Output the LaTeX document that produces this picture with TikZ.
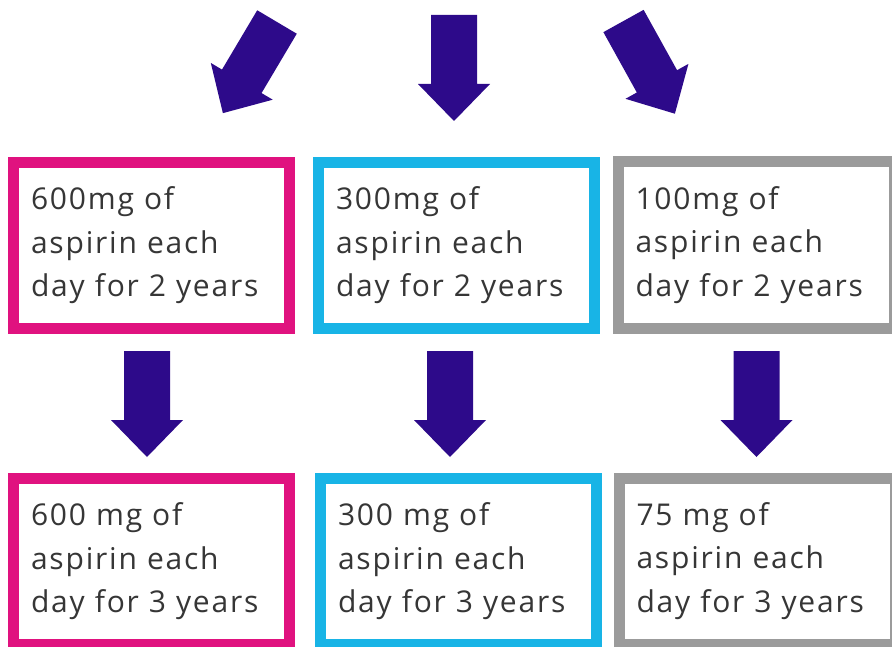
\documentclass[tikz,border=0pt]{standalone}
\usepackage{fontspec}
\setmainfont[LetterSpace=6]{Open Sans}
\definecolor{arrowcol}{HTML}{2D0A8A}
\definecolor{pinkcol}{HTML}{E0127F}
\definecolor{bluecol}{HTML}{18B4E6}
\definecolor{graycol}{HTML}{9B9B9B}
\definecolor{textcol}{HTML}{363636}
\begin{document}
\begin{tikzpicture}[x=1pt,y=-1pt,
  box/.style={draw, line width=11pt, fill=white, minimum width=276pt, minimum height=166pt,
    text width=241pt, inner xsep=17.5pt, inner ysep=0pt, align=left, text=textcol,
    font=\fontsize{30}{43.5}\selectfont},
  blockarrow/.pic={\fill[arrowcol] (-23,0) -- (23,0) -- (23,69) -- (36,69) -- (0,106)
      -- (-36,69) -- (-23,69) -- cycle;}]
\useasboundingbox (0,0) rectangle (892,647);
\clip (0,0) rectangle (892,647);
% top row
\node[box, draw=pinkcol] (p1) at (151.5,245.5) {600mg of\\aspirin each\\day for 2 years};
\node[box, draw=bluecol] (b1) at (456.5,245.5) {300mg of\\aspirin each\\day for 2 years};
\node[box, draw=graycol] (g1) at (756,245) {100mg of\\aspirin each\\day for 2 years};
% bottom row
\node[box, draw=pinkcol] (p2) at (151.5,561.5) {600 mg of\\aspirin each\\day for 3 years};
\node[box, draw=bluecol] (b2) at (458.5,561.5) {300 mg of\\aspirin each\\day for 3 years};
\node[box, draw=graycol] (g2) at (757,561) {75 mg of\\aspirin each\\day for 3 years};
% top arrows
\coordinate (tl) at (277,22);
\coordinate (tm) at (454,15);
\coordinate (tr) at (623.5,21);
\pic[rotate=-30.7] at (tl) {blockarrow};
\pic at (tm) {blockarrow};
\pic[rotate=29] at (tr) {blockarrow};
% middle arrows
\coordinate (mp) at (147,351);
\coordinate (mb) at (450,351);
\coordinate (mg) at (756.5,351);
\pic at (mp) {blockarrow};
\pic at (mb) {blockarrow};
\pic at (mg) {blockarrow};
\end{tikzpicture}
\end{document}
